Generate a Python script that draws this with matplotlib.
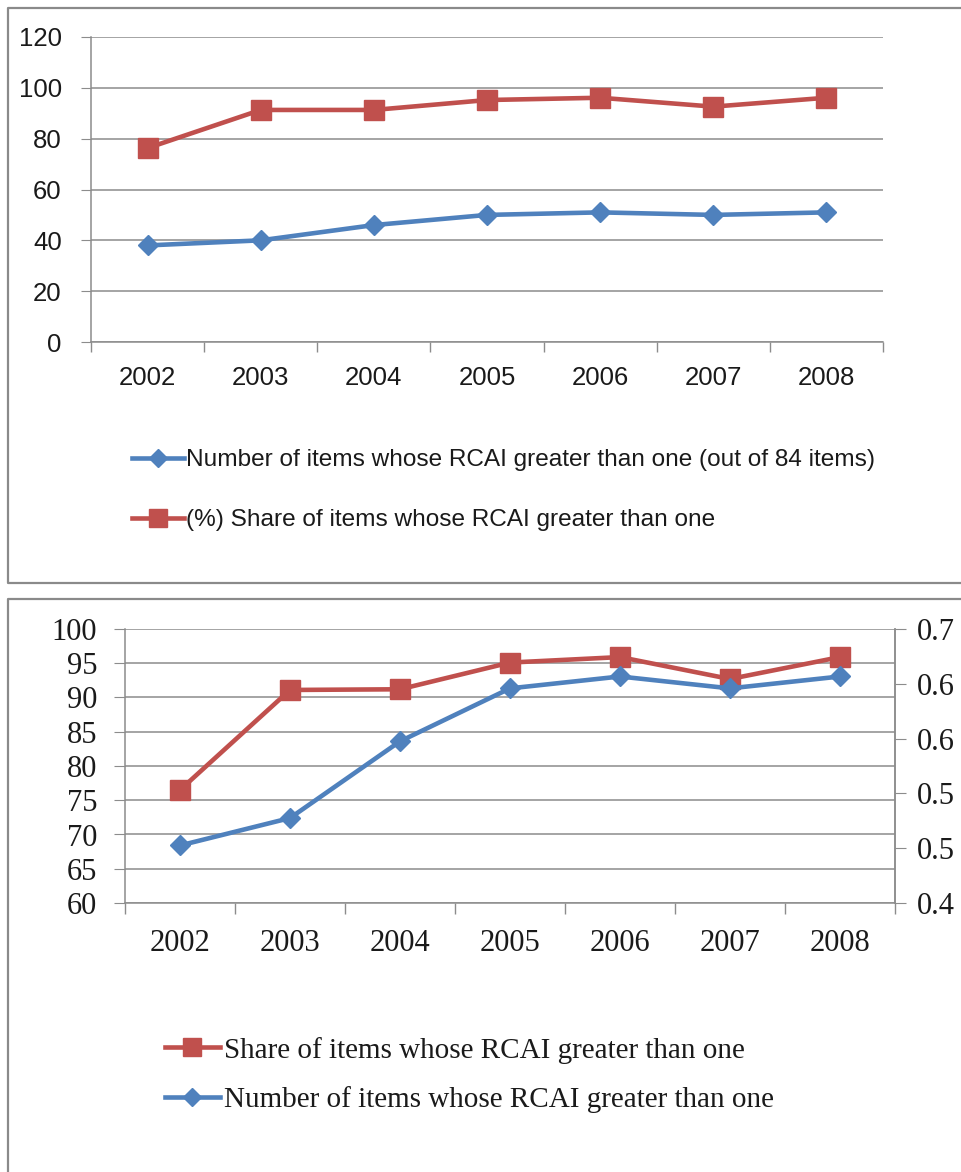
import matplotlib
matplotlib.use("Agg")
import matplotlib.pyplot as plt
from matplotlib.lines import Line2D
from matplotlib.ticker import FixedLocator, FixedFormatter, FormatStrFormatter, NullFormatter

# ---------------- data ----------------
years = ["2002", "2003", "2004", "2005", "2006", "2007", "2008"]

# top chart
top_number = [38, 40, 46, 50, 51, 50, 51]
top_share = [76.3, 91.3, 91.3, 95.2, 96.1, 92.6, 96.1]
top_yticks = [0, 20, 40, 60, 80, 100, 120]
top_label_number = "Number of items whose RCAI greater than one (out of 84 items)"
top_label_share = "(%) Share of items whose RCAI greater than one"

# bottom chart
bot_share = [76.5, 91.1, 91.2, 95.1, 95.9, 92.7, 95.9]          # left axis
bot_number = [0.463, 0.493, 0.577, 0.635, 0.648, 0.635, 0.648]  # right axis
bot_left_ticks = [60, 65, 70, 75, 80, 85, 90, 95, 100]
bot_right_ticks = [0.4, 0.46, 0.52, 0.58, 0.64, 0.7]
bot_label_share = "Share of items whose RCAI greater than one"
bot_label_number = "Number of items whose RCAI greater than one"

# ---------------- style ----------------
RED = "#C0504D"
BLUE = "#4F81BD"
GRID = "#8C8C8C"
TXT = "#1a1a1a"
W, H = 962, 1172
fig = plt.figure(figsize=(W / 100, H / 100), dpi=100)
fig.patch.set_facecolor("white")


def fbox(left, top, right, bottom):
    return [left / W, 1 - bottom / H, (right - left) / W, (bottom - top) / H]


# panel borders
def border(points):
    xs = [p[0] / W for p in points]
    ys = [1 - p[1] / H for p in points]
    fig.add_artist(Line2D(xs, ys, color="#8a8a8a", lw=1.6))


border([(W + 5, 7.5), (8, 7.5), (8, 583), (W + 5, 583)])
border([(W + 5, 599), (8, 599), (8, H + 5)])

x = list(range(len(years)))


def category_axis(ax, fs, family, pad, ticklen):
    ax.set_xlim(-0.5, len(years) - 0.5)
    ax.xaxis.set_major_locator(FixedLocator([i - 0.5 for i in range(len(years) + 1)]))
    ax.xaxis.set_major_formatter(NullFormatter())
    ax.xaxis.set_minor_locator(FixedLocator(x))
    ax.xaxis.set_minor_formatter(FixedFormatter(years))
    ax.tick_params(axis="x", which="major", direction="out", length=ticklen, color=GRID, width=1)
    ax.tick_params(axis="x", which="minor", length=0, pad=pad, labelsize=fs, labelcolor=TXT)
    for lab in ax.get_xticklabels(minor=True):
        lab.set_family(family)


# ---------------- top chart ----------------
sans = ["Liberation Sans", "DejaVu Sans"]
ax1 = fig.add_axes(fbox(91, 37, 883, 342))
ax1.set_ylim(0, 120)
ax1.set_yticks(top_yticks)
ax1.yaxis.grid(True, color=GRID, lw=1.1)
ax1.set_axisbelow(True)
for s in ["top", "right"]:
    ax1.spines[s].set_visible(False)
for s in ["left", "bottom"]:
    ax1.spines[s].set_color(GRID)
    ax1.spines[s].set_linewidth(1.1)
ax1.tick_params(axis="y", direction="out", length=7, color=GRID, pad=14,
                labelsize=18.5, labelcolor=TXT)
for lab in ax1.get_yticklabels():
    lab.set_family(sans)
category_axis(ax1, 18.5, sans, 17, 7)

l1, = ax1.plot(x, top_number, color=BLUE, lw=3.3, marker="D", ms=10.5,
               mfc=BLUE, mec=BLUE, label=top_label_number, clip_on=False)
l2, = ax1.plot(x, top_share, color=RED, lw=3.3, marker="s", ms=14.5,
               mfc=RED, mec=RED, label=top_label_share, clip_on=False)

leg1 = fig.legend(handles=[l1, l2], loc="upper left",
                  bbox_to_anchor=(120 / W, 1 - 437 / H), frameon=False,
                  prop={"family": sans, "size": 17.6}, handlelength=2.1,
                  handletextpad=0.12, labelspacing=1.55, borderpad=0, markerscale=0.9)
for t in leg1.get_texts():
    t.set_color(TXT)

# ---------------- bottom chart ----------------
serif = ["Liberation Serif", "DejaVu Serif"]
ax2 = fig.add_axes(fbox(125, 629, 895, 903))
ax2.set_ylim(60, 100)
ax2.set_yticks(bot_left_ticks)
ax2.yaxis.grid(True, color=GRID, lw=1.1)
ax2.set_axisbelow(True)
ax2.spines["top"].set_visible(False)
for s in ["left", "bottom", "right"]:
    ax2.spines[s].set_color(GRID)
    ax2.spines[s].set_linewidth(1.1)
ax2.tick_params(axis="y", direction="out", length=8, color=GRID, pad=12,
                labelsize=22, labelcolor=TXT)
for lab in ax2.get_yticklabels():
    lab.set_family(serif)
category_axis(ax2, 22, serif, 19, 8)

ax3 = ax2.twinx()
ax3.set_ylim(0.4, 0.7)
ax3.set_yticks(bot_right_ticks)
ax3.yaxis.set_major_formatter(FormatStrFormatter("%.1f"))
for s in ["top", "bottom", "left"]:
    ax3.spines[s].set_visible(False)
ax3.spines["right"].set_color(GRID)
ax3.spines["right"].set_linewidth(1.1)
ax3.tick_params(axis="y", direction="out", length=8, color=GRID, pad=8,
                labelsize=22, labelcolor=TXT)
for lab in ax3.get_yticklabels():
    lab.set_family(serif)

r2, = ax2.plot(x, bot_share, color=RED, lw=3.3, marker="s", ms=14.5,
               mfc=RED, mec=RED, label=bot_label_share, clip_on=False, zorder=3)
b2, = ax3.plot(x, bot_number, color=BLUE, lw=3.3, marker="D", ms=10.5,
               mfc=BLUE, mec=BLUE, label=bot_label_number, clip_on=False, zorder=3)

leg2 = fig.legend(handles=[r2, b2], loc="upper left",
                  bbox_to_anchor=(150 / W, 1 - 1022 / H), frameon=False,
                  prop={"family": serif, "size": 21}, handlelength=1.9,
                  handletextpad=0.15, labelspacing=0.78, borderpad=0, markerscale=0.9)
for t in leg2.get_texts():
    t.set_color(TXT)

fig.savefig("out.png", dpi=100, facecolor="white")
